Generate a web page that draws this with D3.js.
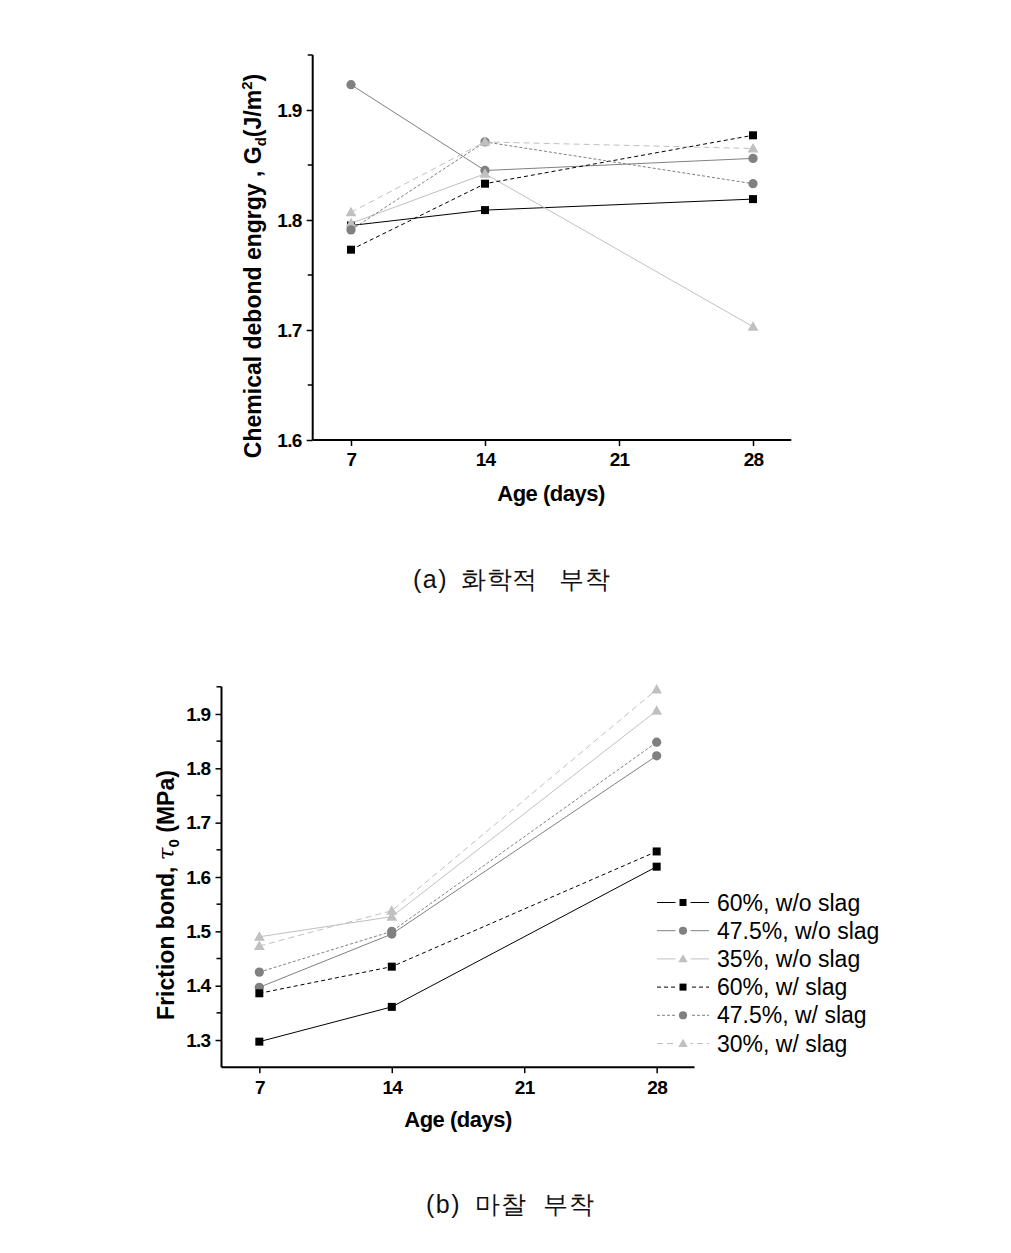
<!DOCTYPE html>
<html>
<head>
<meta charset="utf-8">
<script src="https://cdn.jsdelivr.net/npm/d3@7"></script>
<style>
  html, body { margin: 0; padding: 0; background: #fff; }
  svg { display: block; }
  text { font-family: "Liberation Sans", Arial, sans-serif; }
</style>
</head>
<body>
<svg id="chart" width="1011" height="1253"></svg>
<script>
// ---------------- DATA ----------------
const days = [7, 14, 28];
const seriesLabels = ["60%, w/o slag", "47.5%, w/o slag", "35%, w/o slag", "60%, w/ slag", "47.5%, w/ slag", "30%, w/ slag"];

// (a) Chemical debond energy Gd (J/m^2)
const debond60wo  = [1.795, 1.809, 1.819];
const debond475wo = [1.923, 1.845, 1.856];
const debond35wo  = [1.797, 1.842, 1.703];
const debond60w   = [1.773, 1.833, 1.877];
const debond475w  = [1.791, 1.871, 1.833];
const debond30w   = [1.807, 1.871, 1.865];

// (b) Friction bond tau0 (MPa)
const friction60wo  = [1.297, 1.361, 1.619];
const friction475wo = [1.397, 1.495, 1.823];
const friction35wo  = [1.490, 1.527, 1.906];
const friction60w   = [1.386, 1.435, 1.647];
const friction475w  = [1.425, 1.500, 1.848];
const friction30w   = [1.473, 1.538, 1.945];

const xTickValues = [7, 14, 21, 28];
const debondTicks = [1.6, 1.7, 1.8, 1.9];
const frictionTicks = [1.3, 1.4, 1.5, 1.6, 1.7, 1.8, 1.9];

const captionA = ["(a)", "화학적", "부착"];
const captionB = ["(b)", "마찰", "부착"];

// ---------------- STYLES ----------------
const styles = [
  { color: "#000000", dash: null,  shape: "square" },
  { color: "#808080", dash: null,  shape: "circle" },
  { color: "#c0c0c0", dash: null,  shape: "triangle" },
  { color: "#000000", dash: "4,3", shape: "square" },
  { color: "#808080", dash: "3,2", shape: "circle" },
  { color: "#c0c0c0", dash: "6,4", shape: "triangle" }
];

const svg = d3.select("#chart");
svg.append("rect").attr("width", 1011).attr("height", 1253).attr("fill", "#fff");

function marker(g, shape, color, cx, cy, s) {
  if (shape === "square") {
    g.append("rect").attr("x", cx - s / 2).attr("y", cy - s / 2).attr("width", s).attr("height", s).attr("fill", color);
  } else if (shape === "circle") {
    g.append("circle").attr("cx", cx).attr("cy", cy).attr("r", s * 0.58).attr("fill", color);
  } else {
    const w = s * 1.35, h = s * 1.1;
    g.append("path").attr("d", `M${cx},${cy - h * 0.62}L${cx + w / 2},${cy + h * 0.45}L${cx - w / 2},${cy + h * 0.45}Z`).attr("fill", color);
  }
}

function drawPanel(cfg) {
  const g = svg.append("g");
  const x = d3.scaleLinear().domain([5, 30]).range(cfg.xRange);
  const y = d3.scaleLinear().domain(cfg.yDomain).range(cfg.yRange);

  cfg.series.forEach((vals, i) => {
    const st = styles[i];
    const line = d3.line().x((d, j) => x(days[j])).y(d => y(d));
    g.append("path").datum(vals).attr("d", line)
      .attr("fill", "none").attr("stroke", st.color).attr("stroke-width", 1)
      .attr("stroke-dasharray", st.dash);
    vals.forEach((v, j) => marker(g, st.shape, st.color, x(days[j]), y(v), 8));
  });

  const xAxis = d3.axisBottom(x).tickValues(xTickValues).tickSize(6).tickPadding(7).tickFormat(d3.format("d"));
  const gx = g.append("g").attr("transform", `translate(0,${y(cfg.yDomain[0])})`).call(xAxis);
  gx.select(".domain").attr("d", `M${x(5)},0H${x(30)}`).attr("stroke-width", 2);
  gx.selectAll(".tick line").attr("stroke-width", 1.5);
  gx.selectAll(".tick text").attr("font-size", 19).attr("font-weight", "bold").attr("fill", "#000")
    .attr("font-family", "Liberation Sans, Arial, sans-serif").attr("letter-spacing", "-0.7");

  const yAxis = d3.axisLeft(y).tickValues(cfg.yTicks).tickSize(6).tickPadding(5).tickFormat(d3.format(".1f"));
  const gy = g.append("g").attr("transform", `translate(${x(5)},0)`).call(yAxis);
  gy.select(".domain").attr("d", `M0,${y(cfg.yDomain[1])}V${y(cfg.yDomain[0])}`).attr("stroke-width", 2);
  gy.selectAll(".tick line").attr("stroke-width", 1.5);
  gy.selectAll(".tick text").attr("font-size", 19).attr("font-weight", "bold").attr("fill", "#000")
    .attr("font-family", "Liberation Sans, Arial, sans-serif").attr("letter-spacing", "-0.7");
  const minor = cfg.yTicks.map(t => t + 0.05).filter(t => t <= cfg.yDomain[1] + 1e-9);
  gy.selectAll(".minor").data(minor).enter().append("line")
    .attr("x1", -5).attr("x2", 0).attr("y1", d => y(d)).attr("y2", d => y(d))
    .attr("stroke", "#000").attr("stroke-width", 1.5);

  g.append("text").attr("x", cfg.xTitlePos[0]).attr("y", cfg.xTitlePos[1])
    .attr("text-anchor", "middle").attr("font-size", 22).attr("font-weight", "bold")
    .attr("letter-spacing", "-0.5").text("Age (days)");

  return { g, x, y };
}

function caption(parts, xs, yb) {
  parts.forEach((p, i) => {
    svg.append("text").attr("x", xs[i]).attr("y", yb)
      .attr("font-size", 25).attr("font-family", "Liberation Serif, Noto Sans CJK KR, serif")
      .attr("fill", "#111").attr("letter-spacing", i === 0 ? 1.5 : 0.5)
      .text(p);
  });
}

// ---------------- PANEL (a) ----------------
drawPanel({
  xRange: [312.7, 791.3],
  yDomain: [1.6, 1.95],
  yRange: [440, 55],
  yTicks: debondTicks,
  series: [debond60wo, debond475wo, debond35wo, debond60w, debond475w, debond30w],
  xTitlePos: [551, 501]
});
const ta = svg.append("text").attr("transform", "translate(261,266) rotate(-90)")
  .attr("text-anchor", "middle").attr("font-size", 23).attr("font-weight", "bold");
ta.append("tspan").text("Chemical debond engrgy , G");
ta.append("tspan").attr("font-size", 15).attr("dy", 5).text("d");
ta.append("tspan").attr("dy", -5).text("(J/m");
ta.append("tspan").attr("font-size", 15).attr("dy", -9).text("2");
ta.append("tspan").attr("dy", 9).text(")");

caption(captionA, [413, 461, 559], 588);

// ---------------- PANEL (b) ----------------
drawPanel({
  xRange: [221.5, 694.5],
  yDomain: [1.25, 1.95],
  yRange: [1067.2, 686.8],
  yTicks: frictionTicks,
  series: [friction60wo, friction475wo, friction35wo, friction60w, friction475w, friction30w],
  xTitlePos: [458, 1127]
});
const tb = svg.append("text").attr("transform", "translate(174,895) rotate(-90)")
  .attr("text-anchor", "middle").attr("font-size", 23).attr("font-weight", "bold");
tb.append("tspan").text("Friction bond, ");
tb.append("tspan").attr("font-family", "DejaVu Serif, serif").attr("font-weight", "normal").attr("font-style", "italic").text("τ");
tb.append("tspan").attr("font-size", 15).attr("dy", 5).text("0");
tb.append("tspan").attr("dy", -5).text(" (MPa)");

const legend = svg.append("g");
seriesLabels.forEach((lab, i) => {
  const st = styles[i];
  const cy = 902.5 + i * 28.2;
  legend.append("line").attr("x1", 657).attr("x2", 709).attr("y1", cy).attr("y2", cy)
    .attr("stroke", st.color).attr("stroke-width", 1).attr("stroke-dasharray", st.dash);
  legend.append("rect").attr("x", 675.5).attr("y", cy - 6).attr("width", 15).attr("height", 12).attr("fill", "#fff");
  marker(legend, st.shape, st.color, 683, cy, 7);
  legend.append("text").attr("x", 717).attr("y", cy + 8).attr("font-size", 23).attr("fill", "#000").text(lab);
});

caption(captionB, [426, 475, 543], 1213);
</script>
</body>
</html>
